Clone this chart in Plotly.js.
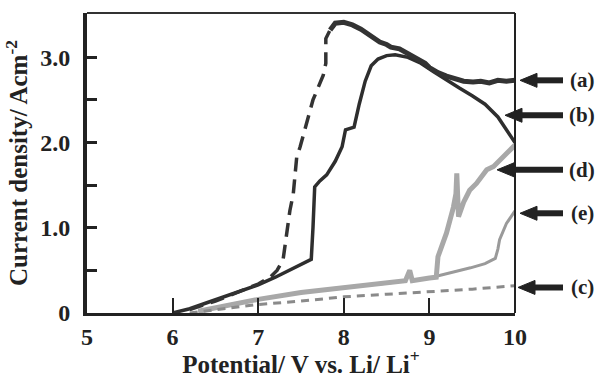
<!DOCTYPE html>
<html>
<head>
<meta charset="utf-8">
<script src="https://cdn.plot.ly/plotly-3.0.1.min.js"></script>
<style>html,body{margin:0;padding:0;background:#fff;}#chart{width:599px;height:378px;}</style>
</head>
<body>
<div id="chart"></div>
<script>
// Curve (a): dashed rising part, then solid noisy top part
const aDashX = [6.2, 6.5, 6.8, 7.0, 7.14, 7.22, 7.29, 7.33, 7.37, 7.41, 7.45, 7.49, 7.64, 7.76, 7.79, 7.79, 7.84];
const aDashY = [0.04, 0.14, 0.26, 0.34, 0.42, 0.5, 0.62, 0.93, 1.2, 1.4, 1.83, 1.95, 2.5, 2.79, 2.93, 3.22, 3.32];
const aSolidX = [7.84, 7.9, 8.0, 8.1, 8.2, 8.3, 8.42, 8.5, 8.55, 8.65, 8.74, 8.85, 8.95, 9.0, 9.1, 9.2, 9.28, 9.4, 9.51, 9.6, 9.7, 9.8, 9.9, 10.0];
const aSolidY = [3.32, 3.4, 3.41, 3.38, 3.33, 3.26, 3.18, 3.15, 3.12, 3.1, 3.05, 2.98, 2.93, 2.88, 2.82, 2.78, 2.75, 2.72, 2.71, 2.72, 2.7, 2.73, 2.72, 2.73];
// Curve (b)
const bX = [6.0, 6.2, 6.4, 6.6, 6.8, 7.0, 7.2, 7.4, 7.55, 7.62, 7.64, 7.66, 7.72, 7.8, 7.9, 7.98, 8.02, 8.12, 8.18, 8.25, 8.32, 8.4, 8.5, 8.6, 8.75, 8.9, 9.05, 9.2, 9.35, 9.5, 9.65, 9.8, 9.9, 10.0];
const bY = [0, 0.05, 0.12, 0.19, 0.26, 0.33, 0.42, 0.52, 0.59, 0.63, 1.0, 1.48, 1.55, 1.62, 1.78, 1.95, 2.15, 2.18, 2.45, 2.72, 2.9, 2.98, 3.02, 3.03, 3.0, 2.93, 2.83, 2.73, 2.64, 2.55, 2.45, 2.3, 2.15, 2.0];
// Curve (c)
const cX = [6.2, 6.5, 7.0, 7.5, 8.0, 8.5, 9.0, 9.5, 10.0];
const cY = [0, 0.04, 0.1, 0.14, 0.19, 0.22, 0.25, 0.28, 0.32];
// Curve (d)
const dX = [6.3, 6.6, 7.0, 7.5, 8.0, 8.5, 8.72, 8.77, 8.8, 9.0, 9.08, 9.1, 9.2, 9.28, 9.31, 9.32, 9.34, 9.4, 9.47, 9.55, 9.67, 9.75, 9.86, 9.93, 10.0];
const dY = [0.02, 0.08, 0.16, 0.24, 0.3, 0.35, 0.38, 0.5, 0.38, 0.41, 0.42, 0.66, 0.94, 1.24, 1.4, 1.64, 1.13, 1.3, 1.44, 1.52, 1.68, 1.72, 1.83, 1.9, 1.97];
// Curve (e)
const eX = [6.3, 6.6, 7.0, 7.5, 8.0, 8.5, 8.72, 8.77, 8.8, 9.0, 9.12, 9.3, 9.48, 9.65, 9.77, 9.8, 9.82, 9.9, 9.98, 10.0];
const eY = [0.02, 0.08, 0.16, 0.24, 0.3, 0.35, 0.38, 0.5, 0.38, 0.41, 0.44, 0.48, 0.53, 0.58, 0.64, 0.75, 0.86, 1.05, 1.18, 1.2];
// Labels and tick text
const xTicks = [5, 6, 7, 8, 9, 10];
const xTickText = ['5', '6', '7', '8', '9', '10'];
const yTicks = [0, 1, 2, 3];
const yTickText = ['0', '1.0', '2.0', '3.0'];
const yMinor = [0.5, 1.5, 2.5];
const curveLabels = ['(a)', '(b)', '(d)', '(e)', '(c)'];
const labelY = [2.73, 2.32, 1.68, 1.17, 0.30];
const arrowTipPx = [520, 505, 497, 520, 518];

const serif = 'Liberation Serif, Times New Roman, serif';
const traces = [
  {x: eX, y: eY, mode: 'lines', line: {color: '#9a9a9a', width: 3}, hoverinfo: 'skip'},
  {x: dX, y: dY, mode: 'lines', line: {color: '#a8a8a8', width: 5}, hoverinfo: 'skip'},
  {x: cX, y: cY, mode: 'lines', line: {color: '#8a8a8a', width: 3, dash: '8px,6px'}, hoverinfo: 'skip'},
  {x: bX, y: bY, mode: 'lines', line: {color: '#2e2e2e', width: 3.5}, hoverinfo: 'skip'},
  {x: aDashX, y: aDashY, mode: 'lines', line: {color: '#333333', width: 3.5, dash: '14px,8px'}, hoverinfo: 'skip'},
  {x: aSolidX, y: aSolidY, mode: 'lines', line: {color: '#333333', width: 5}, hoverinfo: 'skip'}
];

const L = 87, R = 515, PXY = 300 / 3.52;
const px2paper = p => (p - L) / (R - L);
const shapes = [
  {type: 'line', xref: 'paper', yref: 'paper', x0: 0, x1: 1, y0: 1, y1: 1, line: {color: '#333', width: 2}},
  {type: 'line', xref: 'paper', yref: 'paper', x0: 1, x1: 1, y0: 0, y1: 1, line: {color: '#222', width: 2}}
];
const annotations = [];
curveLabels.forEach((t, i) => {
  const tip = arrowTipPx[i];
  const yv = labelY[i];
  const hh = 7 / PXY;
  shapes.push({type: 'line', xref: 'paper', yref: 'y', x0: px2paper(tip + 12), x1: px2paper(563), y0: yv, y1: yv, line: {color: '#222', width: 6}});
  shapes.push({type: 'path', xref: 'paper', yref: 'y',
    path: 'M ' + px2paper(tip) + ' ' + yv + ' L ' + px2paper(tip + 17) + ' ' + (yv + hh) + ' L ' + px2paper(tip + 17) + ' ' + (yv - hh) + ' Z',
    fillcolor: '#222', line: {color: '#222', width: 1}});
  annotations.push({
    xref: 'paper', yref: 'y', x: px2paper(582), y: yv,
    text: t, showarrow: false, xanchor: 'center', yanchor: 'middle',
    font: {family: serif, size: 21, color: '#222', weight: 'bold'}
  });
});

const layout = {
  width: 599, height: 378,
  margin: {l: 87, r: 84, t: 13, b: 65},
  paper_bgcolor: '#fff', plot_bgcolor: '#fff',
  showlegend: false,
  xaxis: {
    range: [5, 10], tickmode: 'array', tickvals: xTicks, ticktext: xTickText,
    ticks: 'inside', ticklen: 15, tickwidth: 2, tickcolor: '#222',
    showline: true, linewidth: 3, linecolor: '#222', showgrid: false, zeroline: false,
    tickfont: {family: serif, size: 24, color: '#222', weight: 'bold'},
    title: {text: 'Potential/ V vs. Li/ Li<sup>+</sup>', font: {family: serif, size: 25, color: '#222', weight: 'bold'}, standoff: 10}
  },
  yaxis: {
    range: [0, 3.52], tickmode: 'array', tickvals: yTicks, ticktext: yTickText,
    ticks: 'inside', ticklen: 10, tickwidth: 3, tickcolor: '#222',
    minor: {tickmode: 'array', tickvals: yMinor, ticks: 'inside', ticklen: 10, tickwidth: 3, tickcolor: '#222'},
    showline: true, linewidth: 4, linecolor: '#222', showgrid: false, zeroline: false,
    tickfont: {family: serif, size: 24, color: '#222', weight: 'bold'},
    ticklabelstandoff: 8,
    title: {text: 'Current density/ Acm<sup>-2</sup>', font: {family: serif, size: 25, color: '#222', weight: 'bold'}, standoff: 6}
  },
  shapes: shapes,
  annotations: annotations
};
Plotly.newPlot('chart', traces, layout, {staticPlot: true, displayModeBar: false});
</script>
</body>
</html>
